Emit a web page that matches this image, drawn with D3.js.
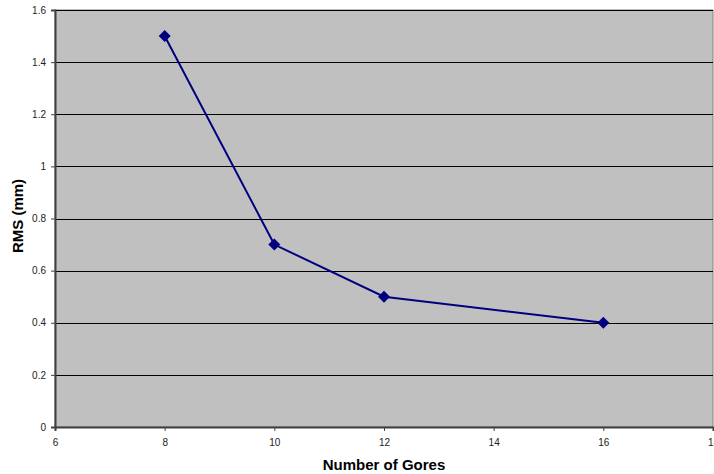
<!DOCTYPE html>
<html><head><meta charset="utf-8">
<script src="https://cdn.jsdelivr.net/npm/d3@7"></script>
<style>body{margin:0;background:#fff}svg{display:block}text{font-family:"Liberation Sans",Arial,sans-serif}</style>
</head><body>
<svg id="c" width="714" height="474"></svg>
<script>
const gores = [8, 10, 12, 16];
const rms = [1.5, 0.7, 0.5, 0.4];
const xTicks = [6, 8, 10, 12, 14, 16, 18];
const yTicks = [0, 0.2, 0.4, 0.6, 0.8, 1, 1.2, 1.4, 1.6];

const svg = d3.select("#c");
const L = 55, R = 713, T = 10, B = 427;
const x = d3.scaleLinear().domain([6, 18]).range([L, R]);
const y = d3.scaleLinear().domain([0, 1.6]).range([B, T]);

svg.append("rect").attr("x", L).attr("y", T).attr("width", R - L).attr("height", B - T)
  .attr("fill", "#c0c0c0").attr("stroke", "#808080").attr("stroke-width", 1);

svg.append("g").selectAll("line").data(yTicks.filter(d => d > 0)).join("line")
  .attr("x1", L).attr("x2", R).attr("y1", d => Math.round(y(d)) + 0.5).attr("y2", d => Math.round(y(d)) + 0.5)
  .attr("stroke", "#000").attr("stroke-width", 1);

const yAxis = svg.append("g").attr("transform", `translate(${L},0)`)
  .call(d3.axisLeft(y).tickValues(yTicks).tickSize(4).tickPadding(5).tickFormat(d => String(d)));
const xAxis = svg.append("g").attr("transform", `translate(0,${B})`)
  .call(d3.axisBottom(x).tickValues(xTicks).tickSize(4).tickPadding(8).tickFormat(d => String(d)));
[yAxis, xAxis].forEach(a => {
  a.select(".domain").attr("stroke", "#404040").attr("stroke-width", 2);
  a.selectAll(".tick line").attr("stroke", "#404040");
  a.selectAll("text").attr("font-size", 10).attr("fill", "#222")
   .attr("font-family", '"Liberation Sans",Arial,sans-serif');
});

const pts = gores.map((g, i) => [g, rms[i]]);
svg.append("path").datum(pts)
  .attr("d", d3.line().x(d => x(d[0])).y(d => y(d[1])))
  .attr("fill", "none").attr("stroke", "#000080").attr("stroke-width", 2);
svg.append("g").selectAll("path").data(pts).join("path")
  .attr("transform", d => `translate(${x(d[0])},${y(d[1])})`)
  .attr("d", "M0,-6L6,0L0,6L-6,0Z").attr("fill", "#000080");

svg.append("text").attr("x", 384).attr("y", 470).attr("text-anchor", "middle")
  .attr("font-size", 15).attr("font-weight", "bold").text("Number of Gores");
svg.append("text").attr("transform", `translate(23,216) rotate(-90)`).attr("text-anchor", "middle")
  .attr("font-size", 15).attr("font-weight", "bold").text("RMS (mm)");
</script>
</body></html>
